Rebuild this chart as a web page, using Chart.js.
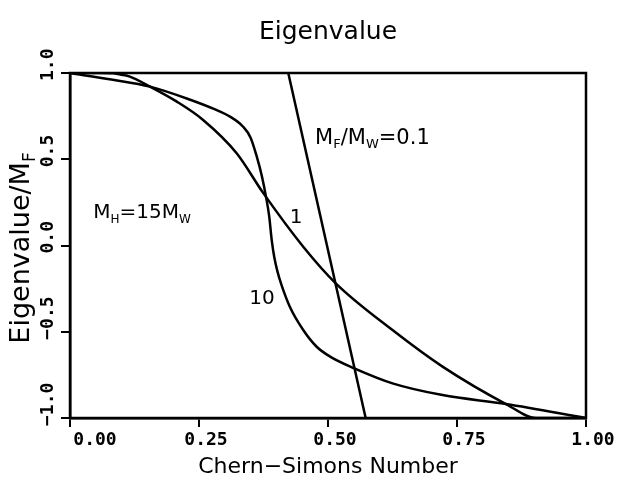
<!DOCTYPE html>
<html><head><meta charset="utf-8">
<script src="https://cdn.jsdelivr.net/npm/chart.js@4.4.1/dist/chart.umd.min.js"></script>
<style>html,body{margin:0;padding:0;background:#fff}#wrap{width:618px;height:483px}</style>
</head><body><div id="wrap"><canvas id="c" width="618" height="483"></canvas></div>
<script>
// ---- data ----
const chartTitle = 'Eigenvalue';
const xAxisTitle = 'Chern\u2212Simons Number';
const xTickValues = [0, 0.25, 0.5, 0.75, 1];
const xTickLabels = ['0.00', '0.25', '0.50', '0.75', '1.00'];
const yTickValues = [-1, -0.5, 0, 0.5, 1];
const yTickLabels = ['\u22121.0', '\u22120.5', '0.0', '0.5', '1.0'];

// curves for M_F/M_W = 1, 10 and straight line M_F/M_W = 0.1
const curve1X = [0, 0.06, 0.084, 0.1, 0.116, 0.155, 0.207, 0.258, 0.323, 0.375, 0.452, 0.515, 0.625, 0.722, 0.845, 0.903, 1.0];
const curve1Y = [1, 1, 0.998, 0.99, 0.979, 0.921, 0.834, 0.728, 0.535, 0.302, -0.007, -0.219, -0.49, -0.702, -0.919, -1.0, -1.0];

const curve10X = [0, 0.08, 0.155, 0.233, 0.28, 0.31, 0.335, 0.35, 0.362, 0.372, 0.38, 0.386, 0.391, 0.396, 0.402, 0.41, 0.426, 0.452, 0.478, 0.504, 0.551, 0.625, 0.722, 0.845, 1.0];
const curve10Y = [1, 0.962, 0.921, 0.845, 0.79, 0.747, 0.69, 0.625, 0.515, 0.40, 0.28, 0.17, 0.03, -0.07, -0.15, -0.23, -0.355, -0.49, -0.587, -0.644, -0.712, -0.799, -0.867, -0.919, -1.0];

const line01X = [0.423, 0.573];
const line01Y = [1, -1];

// annotation labels (data coordinates)
const labelMH = [{t:'M'},{t:'H',sub:true},{t:'=15M'},{t:'W',sub:true}];
const labelMF = [{t:'M'},{t:'F',sub:true},{t:'/M'},{t:'W',sub:true},{t:'=0.1'}];
const label1 = [{t:'1'}];
const label10 = [{t:'10'}];
const yTitleParts = [{t:'Eigenvalue/M'},{t:'F',sub:true}];

const annotations = [
  {parts: labelMH, x: 0.045, y: 0.20, align: 'left', size: 20},
  {parts: labelMF, x: 0.475, y: 0.635, align: 'left', size: 21},
  {parts: label1, x: 0.438, y: 0.171, align: 'center', size: 20},
  {parts: label10, x: 0.372, y: -0.299, align: 'center', size: 20}
];

function toPts(xs, ys){ return xs.map((x,i)=>({x:x, y:ys[i]})); }

const FONT = 'DejaVu Sans';

function richWidth(ctx, parts, size){
  let w = 0;
  for (const p of parts){
    ctx.font = (p.sub ? Math.round(size*0.62) : size) + 'px "' + FONT + '"';
    w += ctx.measureText(p.t).width;
  }
  return w;
}
function drawRich(ctx, parts, x, y, size, align){
  const w = richWidth(ctx, parts, size);
  let cx = align === 'center' ? x - w/2 : (align === 'right' ? x - w : x);
  ctx.textAlign = 'left';
  ctx.textBaseline = 'alphabetic';
  const base = y + size*0.36;
  for (const p of parts){
    const s = p.sub ? Math.round(size*0.62) : size;
    ctx.font = s + 'px "' + FONT + '"';
    ctx.fillText(p.t, cx, p.sub ? base + size*0.22 : base);
    cx += ctx.measureText(p.t).width;
  }
}

const decor = {
  id: 'decor',
  afterDraw(chart){
    const ctx = chart.ctx, ca = chart.chartArea;
    const xs = chart.scales.x, ys = chart.scales.y;
    ctx.save();
    ctx.strokeStyle = '#000';
    ctx.lineWidth = 2.5;
    ctx.strokeRect(ca.left, ca.top, ca.right - ca.left, ca.bottom - ca.top);
    ctx.fillStyle = '#000';
    // title
    ctx.font = '25px "' + FONT + '"';
    ctx.textAlign = 'center';
    ctx.textBaseline = 'middle';
    ctx.fillText(chartTitle, (ca.left + ca.right)/2, 32);
    // x axis title
    ctx.font = '22px "' + FONT + '"';
    ctx.fillText(xAxisTitle, (ca.left + ca.right)/2, 467);
    // x tick labels
    ctx.font = 'bold 18px "DejaVu Sans Mono"';
    xTickValues.forEach((v, i) => {
      const px = xs.getPixelForValue(v) + (i === 0 ? 25 : 7);
      ctx.textAlign = 'center';
      ctx.textBaseline = 'middle';
      ctx.fillText(xTickLabels[i], px, 440);
    });
    // y tick labels (rotated, reading upward)
    yTickValues.forEach((v, i) => {
      const py = ys.getPixelForValue(v);
      ctx.save();
      ctx.translate(48, py + 8);
      ctx.rotate(-Math.PI/2);
      ctx.textAlign = 'left';
      ctx.textBaseline = 'middle';
      ctx.fillText(yTickLabels[i], 0, 0);
      ctx.restore();
    });
    // y axis title
    ctx.save();
    ctx.translate(19, 248);
    ctx.rotate(-Math.PI/2);
    drawRich(ctx, yTitleParts, 0, 0, 27, 'center');
    ctx.restore();
    // annotations
    for (const a of annotations){
      drawRich(ctx, a.parts, xs.getPixelForValue(a.x), ys.getPixelForValue(a.y), a.size, a.align);
    }
    ctx.restore();
  }
};

const lineStyle = {showLine:true, pointRadius:0, borderColor:'#000', borderWidth:2.5, fill:false};

new Chart(document.getElementById('c'), {
  type: 'scatter',
  data: {
    datasets: [
      Object.assign({label:'1', data: toPts(curve1X, curve1Y), cubicInterpolationMode:'monotone'}, lineStyle),
      Object.assign({label:'10', data: toPts(curve10X, curve10Y), cubicInterpolationMode:'monotone'}, lineStyle),
      Object.assign({label:'0.1', data: toPts(line01X, line01Y), tension:0}, lineStyle)
    ]
  },
  options: {
    responsive: false,
    animation: false,
    devicePixelRatio: 1,
    layout: {padding: {top: 73, right: 32, left: 0, bottom: 0}},
    plugins: {legend: {display:false}, tooltip: {enabled:false}, title: {display:false}},
    scales: {
      x: {
        type: 'linear', min: 0, max: 1,
        afterBuildTicks: s => { s.ticks = xTickValues.map(v => ({value: v})); },
        ticks: {display:false},
        grid: {drawOnChartArea:false, drawTicks:true, tickLength:9, color:'#000', lineWidth:2},
        border: {display:true, color:'#000', width:2.5},
        afterFit: s => { s.height = 65; }
      },
      y: {
        type: 'linear', min: -1, max: 1,
        afterBuildTicks: s => { s.ticks = yTickValues.map(v => ({value: v})); },
        ticks: {display:false},
        grid: {drawOnChartArea:false, drawTicks:true, tickLength:9, color:'#000', lineWidth:2},
        border: {display:true, color:'#000', width:2.5},
        afterFit: s => { s.width = 70; }
      }
    }
  },
  plugins: [decor]
});
</script></body></html>
